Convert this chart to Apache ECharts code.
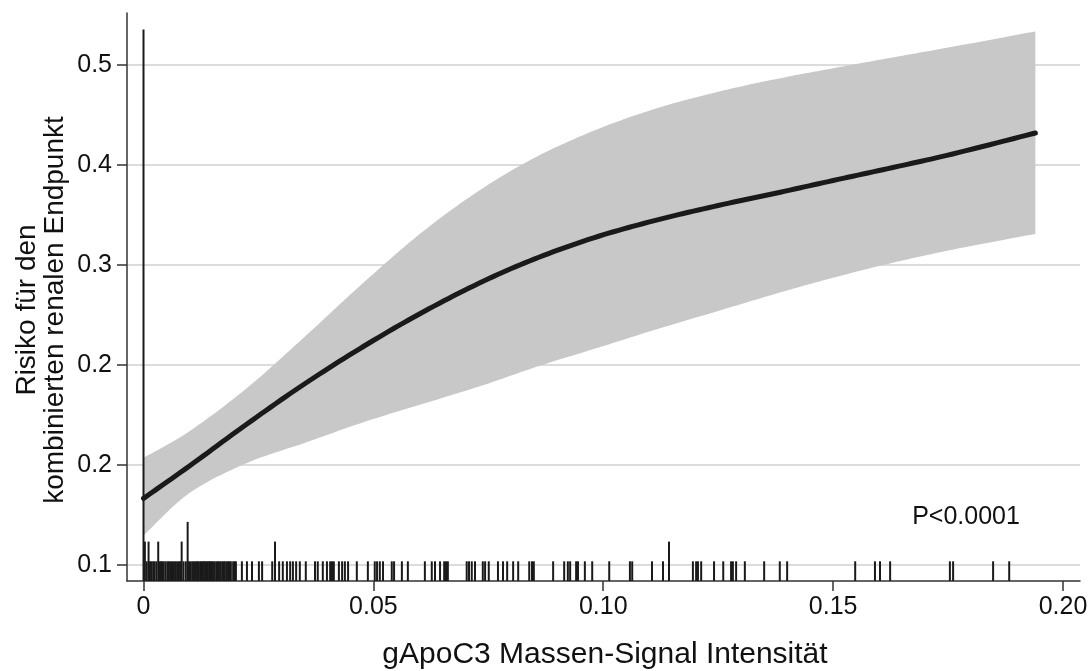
<!DOCTYPE html>
<html>
<head>
<meta charset="utf-8">
<title>gApoC3 Risiko</title>
<script src="https://cdn.jsdelivr.net/npm/echarts@6/dist/echarts.min.js"></script>
<style>
    html, body { margin: 0; padding: 0; background: #fff; }
    #chart { width: 1090px; height: 671px; }
</style>
</head>
<body>
<div id="chart"></div>
<script>
// Stützstellen der Kurve (x = gApoC3 Massen-Signal Intensität)
const curveX = [0, 0.01, 0.0225, 0.035, 0.048, 0.061, 0.074, 0.086, 0.099, 0.112, 0.125, 0.1375, 0.15, 0.163, 0.176, 0.194];
// geschätztes Risiko
const riskFit = [0.1533, 0.1792, 0.2128, 0.2448, 0.2752, 0.3028, 0.3272, 0.3462, 0.363, 0.3763, 0.3876, 0.3974, 0.4076, 0.418, 0.4288, 0.4456];
// Konfidenzband
const riskUpper = [0.1858, 0.207, 0.2416, 0.2824, 0.3264, 0.3675, 0.4019, 0.4276, 0.449, 0.4658, 0.4786, 0.4887, 0.4974, 0.5061, 0.5146, 0.5269];
const riskLower = [0.1235, 0.1576, 0.1816, 0.1976, 0.2144, 0.2292, 0.244, 0.2592, 0.274, 0.289, 0.3032, 0.317, 0.3298, 0.3418, 0.3523, 0.3649];

// Spike-Plot der Beobachtungen (Position und Anzahl)
const rugX = [
    0, 0.0003, 0.0007, 0.0011, 0.0014, 0.0017, 0.0021, 0.0024, 0.0028, 0.0032, 0.0035, 0.0038, 0.0041, 0.0044,
    0.0048, 0.0052, 0.0055, 0.0058, 0.0062, 0.0066, 0.0069, 0.0073, 0.0077, 0.0080, 0.0083, 0.0087, 0.0092,
    0.0096, 0.0099, 0.0103, 0.0107, 0.011, 0.0114, 0.0117, 0.0119, 0.0123, 0.0126, 0.0129, 0.0131, 0.0134,
    0.0137, 0.014, 0.0143, 0.0145, 0.0148, 0.0151, 0.0154, 0.0158, 0.0161, 0.0164, 0.0167, 0.0171, 0.0174,
    0.0177, 0.0181, 0.0184, 0.0187, 0.019, 0.0195, 0.0198, 0.0201, 0.0214, 0.0225, 0.0236, 0.0251, 0.0258, 0.028,
    0.0286, 0.0295, 0.0303, 0.0312, 0.0319, 0.0325, 0.0332, 0.034, 0.0353, 0.0373, 0.0379, 0.039, 0.0399,
    0.0406, 0.041, 0.0414, 0.0425, 0.0432, 0.0438, 0.0445, 0.0464, 0.0488, 0.0503, 0.0508, 0.0514, 0.0521,
    0.054, 0.0545, 0.0562, 0.0575, 0.0612, 0.0627, 0.0634, 0.0645, 0.0654, 0.0658, 0.0662, 0.0703, 0.0708,
    0.0714, 0.0721, 0.0738, 0.0743, 0.0751, 0.0771, 0.0782, 0.0791, 0.0804, 0.0815, 0.0839, 0.0845, 0.0849,
    0.0891, 0.0915, 0.0923, 0.0928, 0.0941, 0.0945, 0.096, 0.0976, 0.1013, 0.1058, 0.1063, 0.1106, 0.113,
    0.1143, 0.1195, 0.1202, 0.1206, 0.1213, 0.1241, 0.1261, 0.1278, 0.1282, 0.1289, 0.1308, 0.135, 0.1384,
    0.14, 0.1548, 0.1591, 0.1602, 0.1624, 0.1754, 0.1761, 0.1848, 0.1883
];
// Häufungen (alle übrigen Positionen: eine Beobachtung)
const rugMulti = { 0: 28, 0.0003: 2, 0.0011: 2, 0.0032: 2, 0.0083: 2, 0.0096: 3, 0.0286: 2, 0.1143: 2 };
const rugCount = rugX.map(x => rugMulti[x] || 1);

// Achsenbeschriftungen
const xTickValues = [0, 0.05, 0.1, 0.15, 0.2];
const xTickLabels = ['0', '0.05', '0.10', '0.15', '0.20'];
const yTickValues = [0.1, 0.18, 0.26, 0.34, 0.42, 0.5];
const yTickLabels = ['0.1', '0.2', '0.2', '0.3', '0.4', '0.5'];

const X_MIN = -0.00359, X_MAX = 0.2037;
const Y_MIN = 0.0872, Y_MAX = 0.5416;
const RUG_UNIT = 0.01576;   // Höhe einer Beobachtung

const FONT = '"Liberation Sans", Arial, Helvetica, sans-serif';
const AXIS_COLOR = '#333333';

const nearestLabel = (v, values, labels) => {
    let best = 0;
    values.forEach((t, i) => { if (Math.abs(t - v) < Math.abs(values[best] - v)) best = i; });
    return labels[best];
};

// Catmull-Rom-Glättung der Pixelpunkte (nur für die Darstellung)
const smoothPoints = (pts, steps) => {
    const out = [];
    for (let i = 0; i < pts.length - 1; i++) {
        const p0 = pts[i - 1] || pts[i];
        const p1 = pts[i];
        const p2 = pts[i + 1];
        const p3 = pts[i + 2] || pts[i + 1];
        for (let s = 0; s < steps; s++) {
            const t = s / steps, t2 = t * t, t3 = t2 * t;
            out.push([0, 1].map(k => 0.5 * (2 * p1[k] + (-p0[k] + p2[k]) * t +
                (2 * p0[k] - 5 * p1[k] + 4 * p2[k] - p3[k]) * t2 +
                (-p0[k] + 3 * p1[k] - 3 * p2[k] + p3[k]) * t3)));
        }
    }
    out.push(pts[pts.length - 1]);
    return out;
};

const chart = echarts.init(document.getElementById('chart'));

const rugData = rugX.map((x, i) => [x, rugCount[i]]);

const option = {
    animation: false,
    backgroundColor: '#ffffff',
    grid: { left: 127, right: 10, top: 13, bottom: 90, outerBoundsMode: 'none' },
    xAxis: {
        type: 'value',
        min: X_MIN,
        max: X_MAX,
        axisLine: { onZero: false, lineStyle: { color: AXIS_COLOR, width: 1.5 } },
        axisTick: { customValues: xTickValues, length: 10, lineStyle: { color: AXIS_COLOR, width: 1.5 } },
        axisLabel: {
            customValues: xTickValues,
            margin: 14,
            color: '#111',
            fontFamily: FONT,
            fontSize: 25,
            formatter: v => nearestLabel(v, xTickValues, xTickLabels)
        },
        splitLine: { show: false }
    },
    yAxis: {
        type: 'value',
        min: Y_MIN,
        max: Y_MAX,
        axisLine: { show: true, onZero: false, lineStyle: { color: AXIS_COLOR, width: 1.5 } },
        axisTick: { show: true, customValues: yTickValues, length: 10, lineStyle: { color: AXIS_COLOR, width: 1.5 } },
        axisLabel: {
            customValues: yTickValues,
            margin: 15,
            color: '#111',
            fontFamily: FONT,
            fontSize: 25,
            formatter: v => nearestLabel(v, yTickValues, yTickLabels)
        },
        splitLine: { show: true, lineStyle: { color: '#dcdcdc', width: 2 } }
    },
    series: [
        {
            // Konfidenzband
            type: 'custom',
            data: [[0, 0]],
            z: 2,
            silent: true,
            renderItem: (params, api) => {
                const up = curveX.map((x, i) => api.coord([x, riskUpper[i]]));
                const lo = curveX.map((x, i) => api.coord([x, riskLower[i]]));
                const points = smoothPoints(up, 12).concat(smoothPoints(lo, 12).reverse());
                return {
                    type: 'polygon',
                    shape: { points },
                    style: { fill: '#c8c8c8' }
                };
            }
        },
        {
            // geschätzte Kurve
            type: 'custom',
            data: [[0, 0]],
            z: 3,
            silent: true,
            renderItem: (params, api) => {
                const pts = curveX.map((x, i) => api.coord([x, riskFit[i]]));
                return {
                    type: 'polyline',
                    shape: { points: smoothPoints(pts, 12) },
                    style: { stroke: '#1a1a1a', lineWidth: 5, fill: null, lineCap: 'round', lineJoin: 'round' }
                };
            }
        },
        {
            // Spike-Plot
            type: 'custom',
            data: rugData,
            z: 4,
            silent: true,
            renderItem: (params, api) => {
                const x = api.value(0);
                const n = api.value(1);
                const p0 = api.coord([x, Y_MIN]);
                const p1 = api.coord([x, Y_MIN + n * RUG_UNIT]);
                return {
                    type: 'line',
                    shape: { x1: p0[0], y1: p0[1], x2: p1[0], y2: p1[1] },
                    style: { stroke: '#1a1a1a', lineWidth: 2 }
                };
            }
        }
    ],
    graphic: [
        {
            type: 'text',
            x: 605, y: 655,
            style: {
                text: 'gApoC3 Massen-Signal Intensität',
                font: '30px ' + FONT,
                fill: '#111',
                align: 'center',
                verticalAlign: 'middle'
            }
        },
        {
            type: 'text',
            x: 41, y: 310,
            rotation: Math.PI / 2,
            style: {
                text: 'Risiko für den\nkombinierten renalen Endpunkt',
                font: '28px ' + FONT,
                lineHeight: 28,
                fill: '#111',
                align: 'center',
                verticalAlign: 'middle'
            }
        },
        {
            type: 'text',
            x: 966, y: 517,
            style: {
                text: 'P<0.0001',
                font: '25px ' + FONT,
                fill: '#111',
                align: 'center',
                verticalAlign: 'middle'
            }
        }
    ]
};

chart.setOption(option);
</script>
</body>
</html>
